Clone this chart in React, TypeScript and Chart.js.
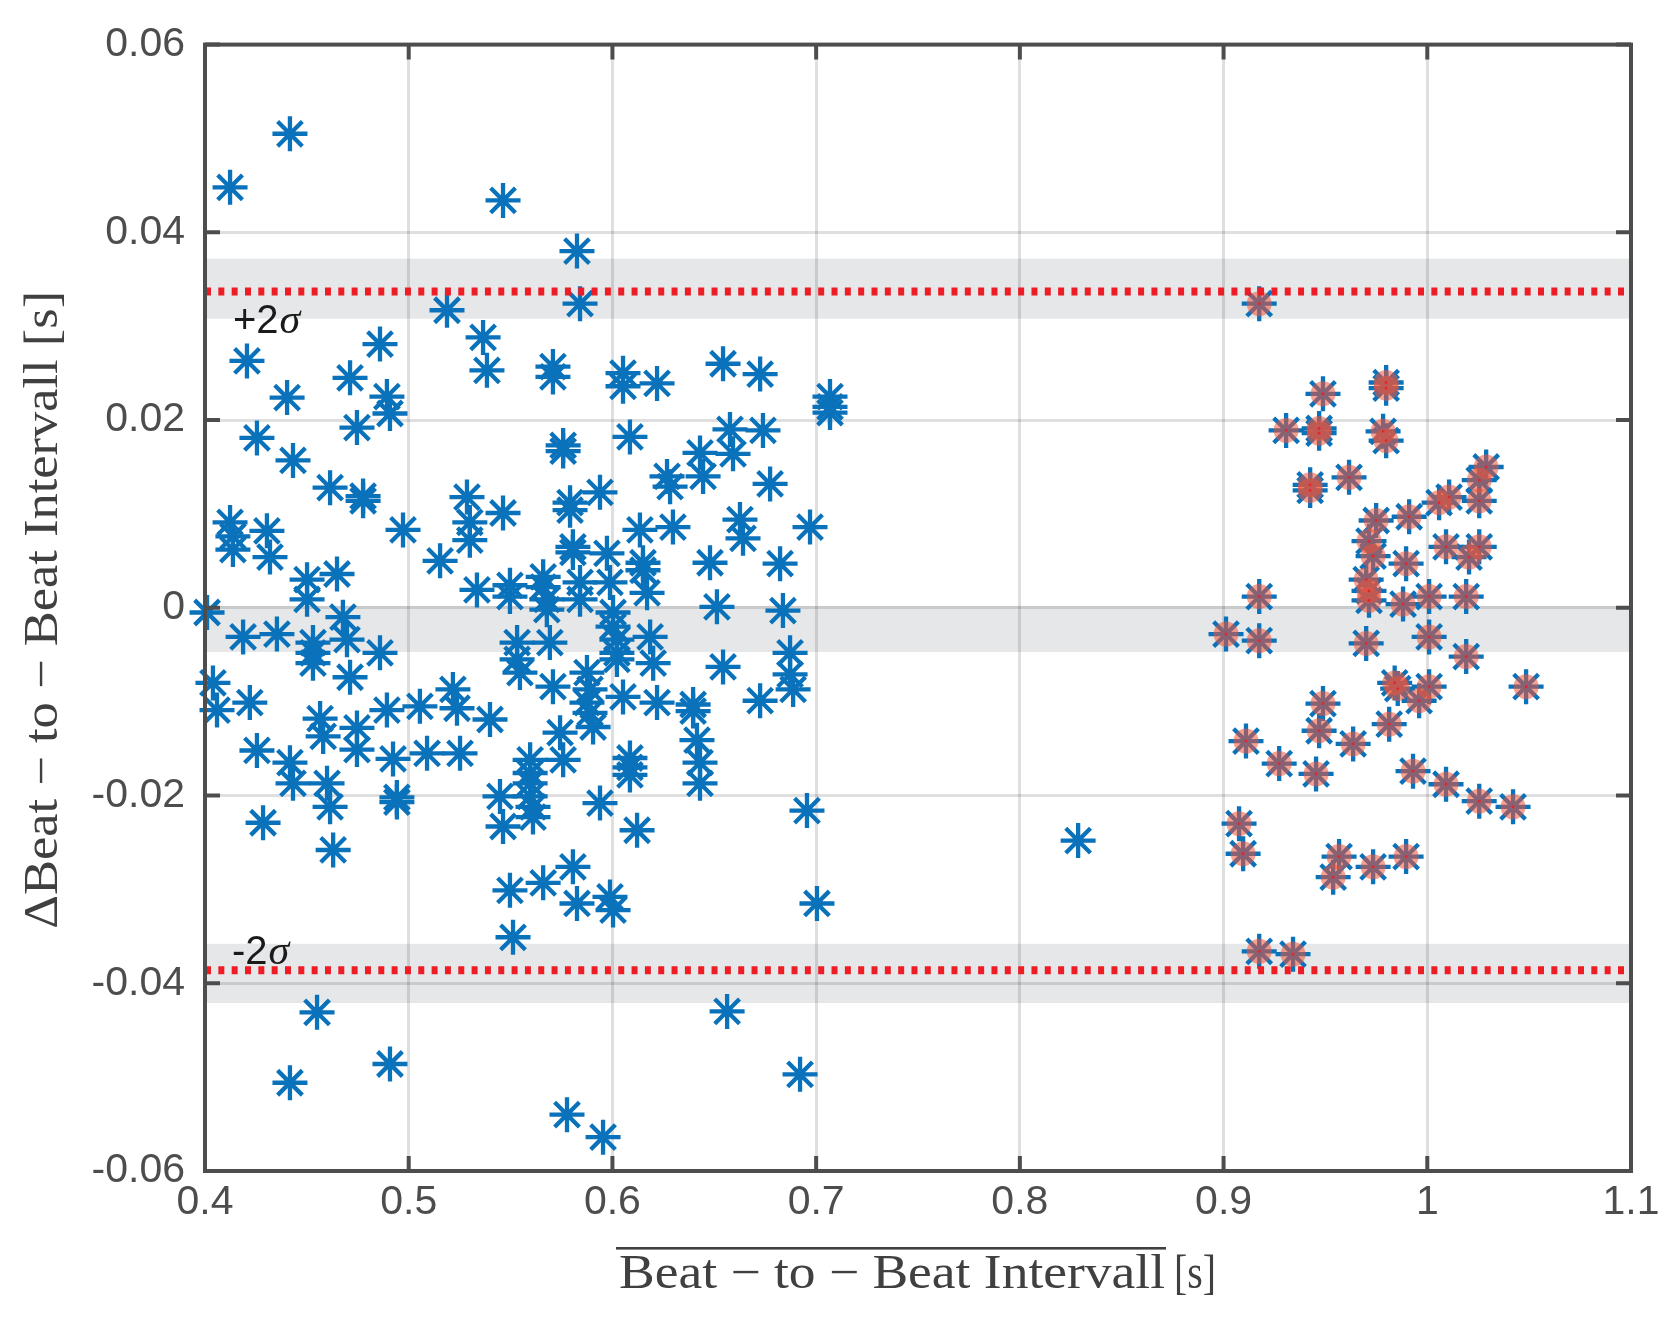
import React, { useEffect, useRef } from 'react';
import { Chart, registerables } from 'chart.js';

Chart.register(...registerables);

// ---------- data ----------
const xTickValues = [0.4, 0.5, 0.6, 0.7, 0.8, 0.9, 1.0, 1.1];
const xTickLabels = ['0.4', '0.5', '0.6', '0.7', '0.8', '0.9', '1', '1.1'];
const yTickValues = [-0.06, -0.04, -0.02, 0, 0.02, 0.04, 0.06];
const yTickLabels = ['-0.06', '-0.04', '-0.02', '0', '0.02', '0.04', '0.06'];

// beats outside the highlighted group (blue asterisks only)
const blueX = [
  0.4123, 0.4417, 0.5463, 0.5826, 0.5188, 0.5841, 0.5365, 0.5384, 0.4206, 0.4859,
  0.4712, 0.5708, 0.5708, 0.6052, 0.6052, 0.6219, 0.6543, 0.6725, 0.7068, 0.7068,
  0.7068, 0.4403, 0.4893, 0.4908, 0.4746, 0.4255, 0.5758, 0.5758, 0.6086, 0.6577,
  0.6739, 0.6430, 0.6592, 0.4432, 0.4614, 0.4776, 0.4776, 0.6268, 0.6283, 0.6445,
  0.6774, 0.5286, 0.5939, 0.5792, 0.5792, 0.5463, 0.5300, 0.5300, 0.4123, 0.4137,
  0.4137, 0.4304, 0.4319, 0.4972, 0.6135, 0.6297, 0.6626, 0.6641, 0.6970, 0.5154,
  0.5806, 0.5806, 0.5973, 0.6150, 0.6150, 0.6479, 0.6823, 0.4501, 0.4501, 0.4648,
  0.5335, 0.5497, 0.5497, 0.5660, 0.5660, 0.5678, 0.5678, 0.5841, 0.5841, 0.5988,
  0.6170, 0.6513, 0.6837, 0.4010, 0.4677, 0.6003, 0.6003, 0.6022, 0.6022, 0.6022,
  0.6185, 0.6200, 0.4187, 0.4353, 0.4530, 0.4530, 0.4530, 0.4697, 0.4859, 0.4712,
  0.5532, 0.5532, 0.5546, 0.5693, 0.5708, 0.5875, 0.5890, 0.5875, 0.6052, 0.6219,
  0.6396, 0.6396, 0.6543, 0.6872, 0.6872, 0.6887, 0.6725, 0.4039, 0.4059, 0.4220,
  0.4565, 0.4580, 0.4746, 0.4746, 0.4893, 0.5055, 0.5217, 0.5237, 0.5399, 0.5743,
  0.5890, 0.5905, 0.6415, 0.6430, 0.6430, 0.4255, 0.4417, 0.4432, 0.4599, 0.4614,
  0.4923, 0.4942, 0.4942, 0.5090, 0.5252, 0.5596, 0.5596, 0.5596, 0.5596, 0.5610,
  0.5610, 0.5758, 0.6086, 0.6086, 0.6086, 0.5448, 0.5463, 0.5939, 0.6121, 0.6955,
  0.4285, 0.4629, 0.5497, 0.5660, 0.5806, 0.5826, 0.5988, 0.6003, 0.7004, 0.5512,
  0.4550, 0.6563, 0.4417, 0.4908, 0.6921, 0.5777, 0.5954, 0.8286,
];
const blueY = [
  0.0448, 0.0505, 0.0434, 0.0380, 0.0317, 0.0324, 0.0288, 0.0253, 0.0263, 0.0281,
  0.0245, 0.0257, 0.0246, 0.0250, 0.0236, 0.0239, 0.0260, 0.0249, 0.0225, 0.0214,
  0.0208, 0.0224, 0.0225, 0.0207, 0.0192, 0.0181, 0.0173, 0.0167, 0.0182, 0.0190,
  0.0189, 0.0165, 0.0164, 0.0157, 0.0128, 0.0119, 0.0114, 0.0140, 0.0129, 0.0140,
  0.0132, 0.0118, 0.0123, 0.0112, 0.0104, 0.0101, 0.0091, 0.0072, 0.0091, 0.0076,
  0.0062, 0.0082, 0.0054, 0.0083, 0.0083, 0.0086, 0.0094, 0.0074, 0.0086, 0.0050,
  0.0065, 0.0059, 0.0058, 0.0048, 0.0040, 0.0048, 0.0047, 0.0030, 0.0009, 0.0036,
  0.0019, 0.0024, 0.0012, 0.0033, 0.0022, 0.0009, -0.0002, 0.0027, 0.0009, 0.0027,
  0.0016, 0.0001, -0.0003, -0.0005, -0.0010, -0.0005, -0.0020, -0.0034, -0.0048, -0.0055,
  -0.0031, -0.0059, -0.0031, -0.0028, -0.0037, -0.0048, -0.0059, -0.0034, -0.0048, -0.0074,
  -0.0037, -0.0055, -0.0069, -0.0037, -0.0084, -0.0069, -0.0087, -0.0101, -0.0095, -0.0101,
  -0.0103, -0.0110, -0.0063, -0.0048, -0.0071, -0.0087, -0.0099, -0.0080, -0.0109, -0.0101,
  -0.0118, -0.0137, -0.0128, -0.0151, -0.0109, -0.0105, -0.0087, -0.0107, -0.0119, -0.0133,
  -0.0112, -0.0127, -0.0141, -0.0165, -0.0187, -0.0152, -0.0165, -0.0187, -0.0187, -0.0212,
  -0.0161, -0.0202, -0.0207, -0.0155, -0.0155, -0.0162, -0.0176, -0.0187, -0.0201, -0.0212,
  -0.0223, -0.0162, -0.0160, -0.0170, -0.0178, -0.0201, -0.0233, -0.0208, -0.0237, -0.0216,
  -0.0229, -0.0258, -0.0301, -0.0293, -0.0276, -0.0315, -0.0308, -0.0322, -0.0315, -0.0351,
  -0.0431, -0.0430, -0.0506, -0.0486, -0.0497, -0.0540, -0.0564, -0.0248,
];

// highlighted beats (blue asterisk with red overlay)
const redX = [
  0.9175, 0.9798, 0.9798, 0.9488, 0.9307, 0.9469, 0.9469, 0.9783, 0.9798, 0.9425,
  0.9425, 0.9616, 1.0289, 1.0255, 1.0255, 1.0107, 1.0058, 0.9911, 0.9749, 0.9714,
  0.9734, 0.9896, 1.0092, 1.0255, 1.0205, 0.9700, 0.9714, 0.9714, 0.9881, 1.0009,
  1.0191, 0.9175, 0.9012, 0.9175, 0.9700, 1.0009, 1.0191, 1.0485, 0.9840, 0.9855,
  1.0009, 0.9960, 0.9488, 0.9813, 0.9469, 0.9636, 0.9110, 0.9273, 0.9454, 0.9930,
  1.0092, 1.0255, 1.0421, 0.9076, 0.9096, 0.9567, 0.9538, 0.9734, 0.9896, 0.9175,
  0.9341,
];
const redY = [
  0.0324, 0.0240, 0.0234, 0.0228, 0.0189, 0.0191, 0.0186, 0.0188, 0.0178, 0.0131,
  0.0125, 0.0139, 0.0150, 0.0136, 0.0114, 0.0118, 0.0112, 0.0097, 0.0093, 0.0071,
  0.0055, 0.0047, 0.0065, 0.0065, 0.0054, 0.0030, 0.0018, 0.0008, 0.0004, 0.0012,
  0.0012, 0.0012, -0.0028, -0.0035, -0.0038, -0.0031, -0.0052, -0.0084, -0.0080, -0.0086,
  -0.0084, -0.0099, -0.0102, -0.0124, -0.0131, -0.0145, -0.0142, -0.0166, -0.0177, -0.0174,
  -0.0188, -0.0206, -0.0212, -0.0230, -0.0262, -0.0265, -0.0287, -0.0276, -0.0265, -0.0366,
  -0.0369,
];

// limits of agreement and their confidence bands
const limitValues = [0.0337, -0.0386];
const bandLow = [0.0308, -0.0047, -0.0421];
const bandHigh = [0.0372, 0.0002, -0.0358];

const annotationMain = ['+2', '-2'];
const annotationX = [0.4137, 0.4132];
const annotationY = [0.0293, -0.0380];

const xTitleOver = 'Beat \u2212 to \u2212 Beat Intervall';
const xTitleUnit = '[s]';
const yTitle = '\u0394Beat \u2212 to \u2212 Beat Intervall [s]';

// ---------- layout ----------
const W = 1676;
const H = 1318;
const PLOT = { left: 205, right: 1631, top: 44, bottom: 1171 };
const AXIS_COLOR = '#4d4d4d';
const SANS = '"Liberation Sans", Arial, Helvetica, sans-serif';
const SERIF = '"Liberation Serif", "Times New Roman", serif';

const decorPlugin = {
  id: 'decor',
  beforeDraw(chart: any) {
    const { ctx, chartArea, scales } = chart;
    const ys = scales.y;
    ctx.save();
    ctx.fillStyle = '#e6e7e8';
    for (let i = 0; i < bandLow.length; i++) {
      const y1 = ys.getPixelForValue(bandHigh[i]);
      const y2 = ys.getPixelForValue(bandLow[i]);
      ctx.fillRect(chartArea.left, y1, chartArea.right - chartArea.left, y2 - y1);
    }
    ctx.restore();
  },
  afterDatasetsDraw(chart: any) {
    const { ctx, scales } = chart;
    ctx.save();
    ctx.fillStyle = '#1a1a1a';
    ctx.textBaseline = 'alphabetic';
    ctx.textAlign = 'left';
    for (let i = 0; i < annotationMain.length; i++) {
      const px = scales.x.getPixelForValue(annotationX[i]);
      const py = scales.y.getPixelForValue(annotationY[i]);
      ctx.font = `40px ${SANS}`;
      ctx.fillText(annotationMain[i], px, py);
      const w = ctx.measureText(annotationMain[i]).width;
      ctx.font = `italic 42px ${SERIF}`;
      ctx.fillText('\u03c3', px + w + 1, py);
    }
    ctx.restore();
  },
  afterDraw(chart: any) {
    const { ctx, chartArea, scales } = chart;
    const { left, right, top, bottom } = chartArea;
    ctx.save();
    // inward ticks on all sides
    ctx.strokeStyle = AXIS_COLOR;
    ctx.lineWidth = 4;
    const tl = 15;
    ctx.beginPath();
    xTickValues.forEach((v) => {
      const px = scales.x.getPixelForValue(v);
      ctx.moveTo(px, bottom);
      ctx.lineTo(px, bottom - tl);
      ctx.moveTo(px, top);
      ctx.lineTo(px, top + tl);
    });
    yTickValues.forEach((v) => {
      const py = scales.y.getPixelForValue(v);
      ctx.moveTo(left, py);
      ctx.lineTo(left + tl, py);
      ctx.moveTo(right, py);
      ctx.lineTo(right - tl, py);
    });
    ctx.stroke();
    // frame
    ctx.strokeRect(left, top, right - left, bottom - top);

    // x title with overline
    ctx.fillStyle = '#404040';
    ctx.textBaseline = 'alphabetic';
    ctx.textAlign = 'left';
    ctx.font = `48px ${SERIF}`;
    const base = 1288;
    const overStart = 619;
    const overEnd = 1165;
    const wOver = ctx.measureText(xTitleOver).width;
    ctx.save();
    ctx.translate(overStart, base);
    ctx.scale((overEnd - overStart) / wOver, 1);
    ctx.fillText(xTitleOver, 0, 0);
    ctx.restore();
    ctx.fillRect(overStart - 3, base - 41, overEnd - overStart + 4, 2.6);
    const wUnit = ctx.measureText(xTitleUnit).width;
    ctx.save();
    ctx.translate(1174, base);
    ctx.scale(42 / wUnit, 1);
    ctx.fillText(xTitleUnit, 0, 0);
    ctx.restore();

    // y title (rotated)
    ctx.save();
    ctx.translate(57, (top + bottom) / 2 + 2);
    ctx.rotate(-Math.PI / 2);
    const wY = ctx.measureText(yTitle).width;
    const targetY = 638;
    ctx.scale(targetY / wY, 1);
    ctx.textAlign = 'center';
    ctx.fillText(yTitle, 0, 0);
    ctx.restore();
    ctx.restore();
  },
};

export default function App() {
  const canvasRef = useRef<HTMLCanvasElement | null>(null);

  useEffect(() => {
    document.body.style.margin = '0';
    const canvas = canvasRef.current;
    if (!canvas) return;

    const bluePts = blueX.map((x, i) => ({ x, y: blueY[i] }))
      .concat(redX.map((x, i) => ({ x, y: redY[i] })));
    const redPts = redX.map((x, i) => ({ x, y: redY[i] }));
    const limitLine = (v: number) => [
      { x: xTickValues[0], y: v },
      { x: xTickValues[xTickValues.length - 1], y: v },
    ];

    const chart = new Chart(canvas, {
      type: 'scatter',
      data: {
        datasets: [
          {
            label: 'beats',
            data: bluePts,
            pointStyle: 'star',
            pointRadius: 17.5,
            pointHoverRadius: 17.5,
            pointBorderWidth: 4.3,
            pointHoverBorderWidth: 4.3,
            pointBorderColor: '#0a72ba',
            pointBackgroundColor: '#0a72ba',
            clip: false,
            order: 4,
          } as any,
          {
            label: 'highlight',
            data: redPts,
            pointStyle: 'circle',
            pointRadius: 12.5,
            pointHoverRadius: 12.5,
            pointBorderWidth: 0,
            pointBackgroundColor: 'rgba(240,84,56,0.55)',
            clip: false,
            order: 3,
          } as any,
          {
            label: 'centres',
            data: redPts,
            pointStyle: 'circle',
            pointRadius: 1.4,
            pointBorderWidth: 0,
            pointBackgroundColor: '#e8232a',
            clip: false,
            order: 2,
          } as any,
          ...limitValues.map((v, i) => ({
            type: 'line' as const,
            label: 'limit' + i,
            data: limitLine(v),
            borderColor: '#ee1c25',
            borderWidth: 8,
            borderDash: [6, 7.33],
            borderCapStyle: 'butt' as const,
            pointRadius: 0,
            showLine: true,
            fill: false,
            order: 1,
          })),
        ],
      },
      options: {
        responsive: false,
        animation: false,
        devicePixelRatio: 1,
        events: [],
        layout: {
          padding: { left: 0, right: W - PLOT.right, top: PLOT.top, bottom: 0 },
        },
        plugins: {
          legend: { display: false },
          tooltip: { enabled: false },
          title: { display: false },
        },
        scales: {
          x: {
            type: 'linear',
            min: 0.4,
            max: 1.1,
            afterBuildTicks: (s: any) => {
              s.ticks = xTickValues.map((v) => ({ value: v }));
            },
            afterFit: (s: any) => {
              s.height = H - PLOT.bottom;
            },
            ticks: {
              callback: (_v: any, i: number) => xTickLabels[i],
              font: { family: SANS, size: 41 },
              color: AXIS_COLOR,
              padding: 7,
              maxRotation: 0,
              autoSkip: false,
            },
            grid: { color: 'rgba(38,38,38,0.15)', lineWidth: 3, drawTicks: false },
            border: { display: false },
          },
          y: {
            type: 'linear',
            min: -0.06,
            max: 0.06,
            afterBuildTicks: (s: any) => {
              s.ticks = yTickValues.map((v) => ({ value: v }));
            },
            afterFit: (s: any) => {
              s.width = PLOT.left;
            },
            ticks: {
              callback: (_v: any, i: number) => yTickLabels[i],
              font: { family: SANS, size: 41 },
              color: AXIS_COLOR,
              padding: 20,
              autoSkip: false,
            },
            grid: { color: 'rgba(38,38,38,0.15)', lineWidth: 3, drawTicks: false },
            border: { display: false },
          },
        },
      } as any,
      plugins: [decorPlugin],
    });

    return () => {
      chart.destroy();
    };
  }, []);

  return (
    <div style={{ position: 'absolute', left: 0, top: 0, width: W, height: H, background: '#fff' }}>
      <canvas ref={canvasRef} width={W} height={H} style={{ width: W, height: H, display: 'block' }} />
    </div>
  );
}
